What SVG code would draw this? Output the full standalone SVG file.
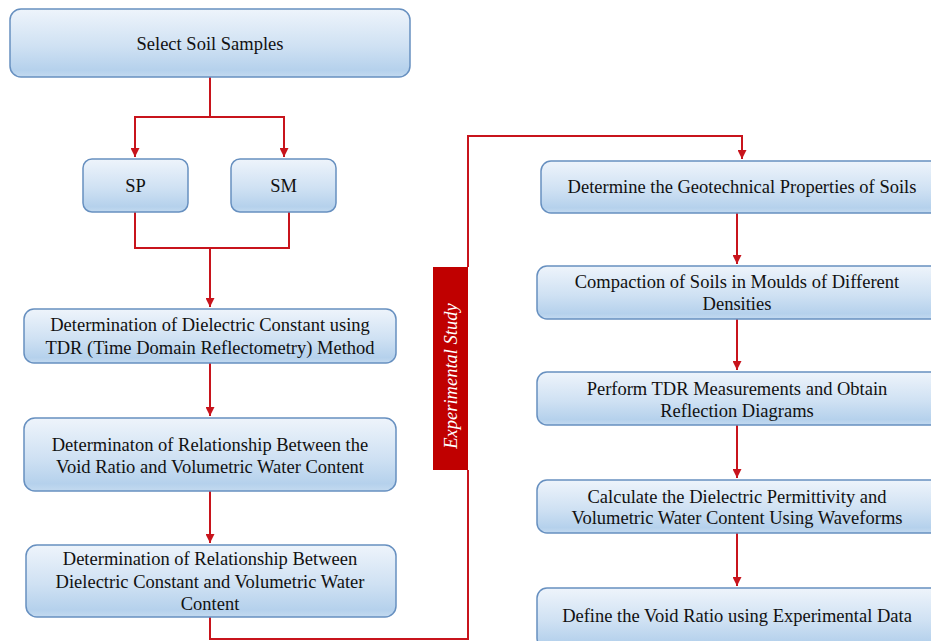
<svg xmlns="http://www.w3.org/2000/svg" width="931" height="641" viewBox="0 0 931 641">
<defs>
<linearGradient id="g" x1="0" y1="0" x2="0" y2="1">
<stop offset="0" stop-color="#eef4fb"/>
<stop offset="0.55" stop-color="#cfe1f3"/>
<stop offset="0.9" stop-color="#b5d1ec"/>
<stop offset="1" stop-color="#c3daf0"/>
</linearGradient>
<marker id="ah" viewBox="0 0 10 10" refX="10" refY="5" markerWidth="9" markerHeight="9" markerUnits="userSpaceOnUse" orient="auto">
<path d="M0,0 L10,5 L0,10 Z" fill="#c8141c"/>
</marker>
</defs>
<style>
.box{fill:url(#g);stroke:#6790c0;stroke-width:1.5}
.t{font-size:18.5px;fill:#111111;text-anchor:middle}
.c{fill:none;stroke:#c8141c;stroke-width:2}
</style>
<rect width="931" height="641" fill="#ffffff"/>
<g id="connectors">
<path class="c" d="M210,77 V117 H135 V157" marker-end="url(#ah)"/>
<path class="c" d="M210,117 H284 V157" marker-end="url(#ah)"/>
<path class="c" d="M135,212 V248 H289 V212"/>
<path class="c" d="M210,248 V307" marker-end="url(#ah)"/>
<path class="c" d="M210,363 V416" marker-end="url(#ah)"/>
<path class="c" d="M210,491 V543" marker-end="url(#ah)"/>
<path class="c" d="M210,617 V639 H468 V470"/>
<path class="c" d="M468,267 V136 H742 V159" marker-end="url(#ah)"/>
<path class="c" d="M737,213 V264" marker-end="url(#ah)"/>
<path class="c" d="M737,319 V370" marker-end="url(#ah)"/>
<path class="c" d="M737,425 V478" marker-end="url(#ah)"/>
<path class="c" d="M737,533 V586" marker-end="url(#ah)"/>
</g>
<g font-family="Liberation Serif, 'Times New Roman', serif">
<g id="n_select"><rect class="box" x="10" y="9" width="400" height="68" rx="11"/><text class="t" x="210" y="50">Select Soil Samples</text></g>
<g id="n_sp"><rect class="box" x="83" y="159" width="105" height="53" rx="9"/><text class="t" x="135.5" y="192">SP</text></g>
<g id="n_sm"><rect class="box" x="231" y="159" width="105" height="53" rx="9"/><text class="t" x="283.5" y="192">SM</text></g>
<g id="n_dielectric"><rect class="box" x="24" y="309" width="372" height="54" rx="10"/><text class="t" x="210" y="331">Determination of Dielectric Constant using</text><text class="t" x="210" y="354">TDR (Time Domain Reflectometry) Method</text></g>
<g id="n_void"><rect class="box" x="24" y="418" width="372" height="73" rx="11"/><text class="t" x="210" y="451">Determinaton of Relationship Between the</text><text class="t" x="210" y="473">Void Ratio and Volumetric Water Content</text></g>
<g id="n_relation"><rect class="box" x="26" y="545" width="370" height="72" rx="11"/><text class="t" x="210" y="565">Determination of Relationship Between</text><text class="t" x="210" y="588">Dielectric Constant and Volumetric Water</text><text class="t" x="210" y="610">Content</text></g>
<g id="n_label"><rect x="433" y="267" width="35" height="203" fill="#c00000"/><text x="0" y="0" transform="translate(457,376) rotate(-90)" font-size="18.5" font-style="italic" fill="#ffffff" text-anchor="middle">Experimental Study</text></g>
<g id="n_geo"><rect class="box" x="541" y="161" width="402" height="52" rx="10"/><text class="t" x="742" y="193">Determine the Geotechnical Properties of Soils</text></g>
<g id="n_compaction"><rect class="box" x="537" y="266" width="406" height="53" rx="10"/><text class="t" x="737" y="288">Compaction of Soils in Moulds of Different</text><text class="t" x="737" y="310">Densities</text></g>
<g id="n_tdr"><rect class="box" x="537" y="372" width="406" height="53" rx="10"/><text class="t" x="737" y="395">Perform TDR Measurements and Obtain</text><text class="t" x="737" y="417">Reflection Diagrams</text></g>
<g id="n_calc"><rect class="box" x="537" y="480" width="406" height="53" rx="10"/><text class="t" x="737" y="503">Calculate the Dielectric Permittivity and</text><text class="t" x="737" y="524">Volumetric Water Content Using Waveforms</text></g>
<g id="n_define"><rect class="box" x="537" y="588" width="406" height="60" rx="10"/><text class="t" x="737" y="622">Define the Void Ratio using Experimental Data</text></g>
</g>
</svg>
